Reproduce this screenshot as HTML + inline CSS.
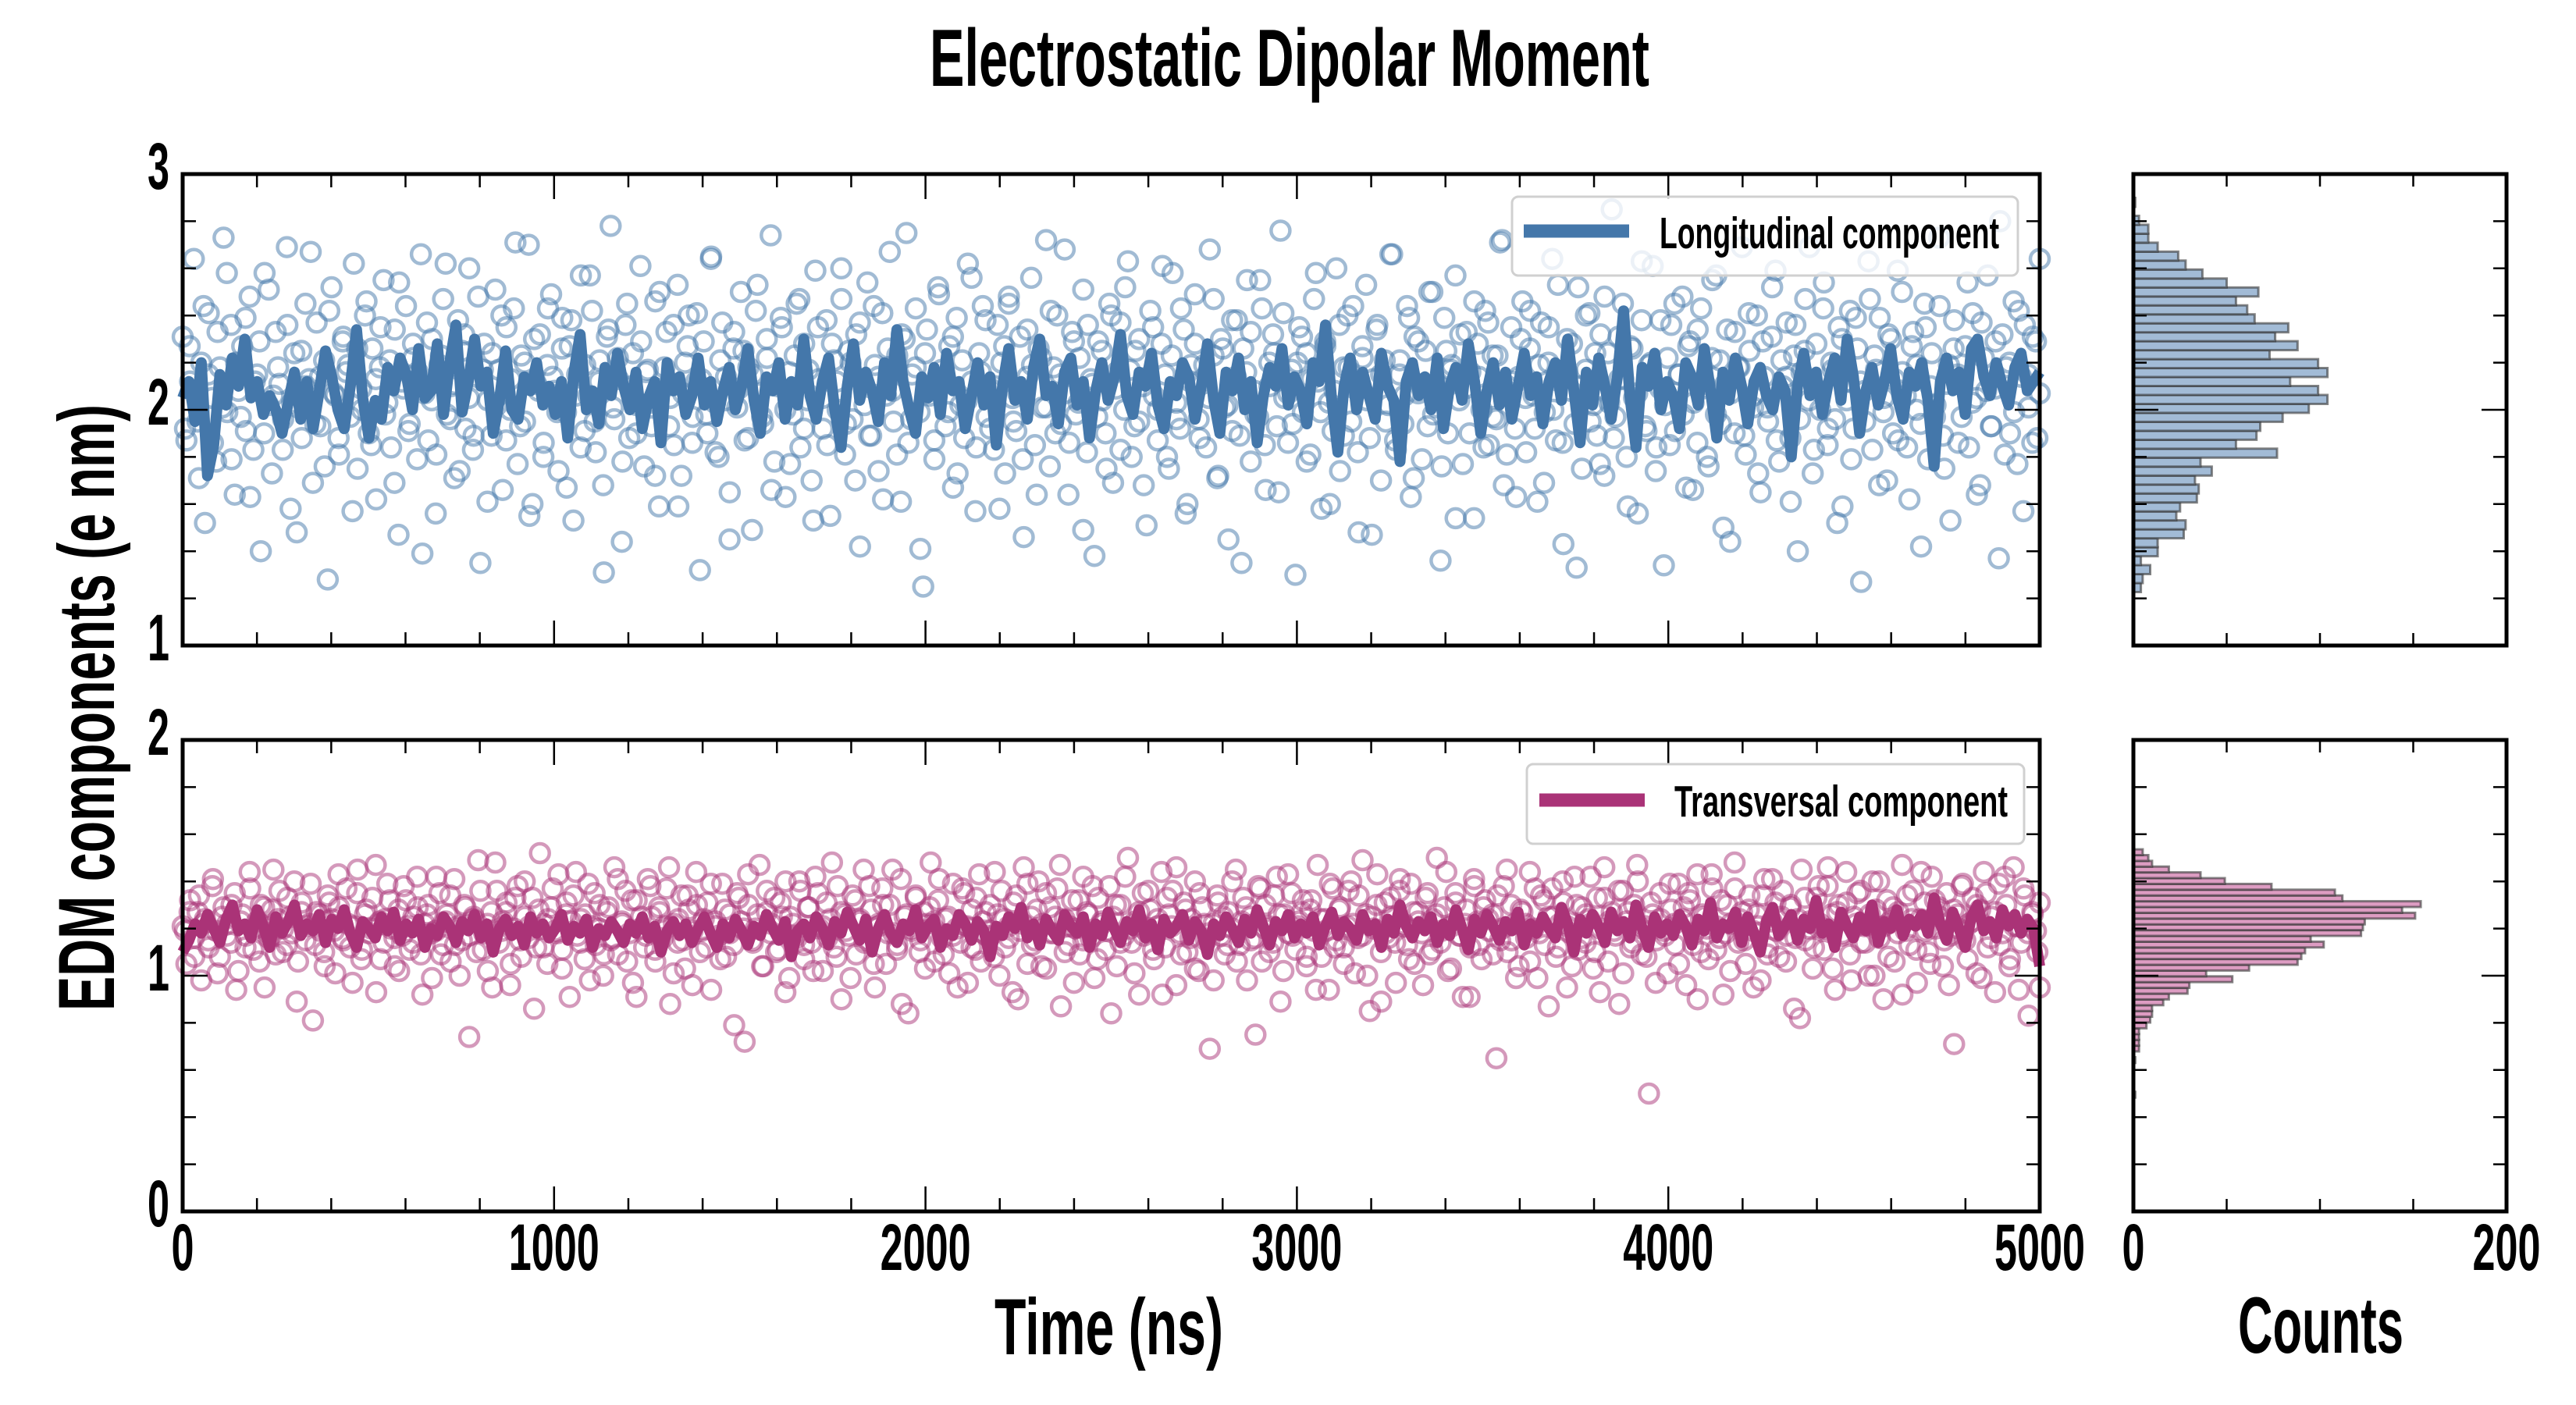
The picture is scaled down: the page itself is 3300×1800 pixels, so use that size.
<!DOCTYPE html>
<html><head><meta charset="utf-8"><style>
html,body{margin:0;padding:0;background:#fff;}
svg{display:block;}
text{font-family:"Liberation Sans Narrow","Liberation Sans",sans-serif;font-weight:bold;fill:#000;}
</style></head><body>
<svg id="chart" width="3300" height="1800" viewBox="0 0 3300 1800" xmlns="http://www.w3.org/2000/svg">
<rect width="3300" height="1800" fill="#fff"/>
<text x="1191" y="110" font-size="104" textLength="922" lengthAdjust="spacingAndGlyphs">Electrostatic Dipolar Moment</text>
<text x="1274" y="1735" font-size="102" textLength="293" lengthAdjust="spacingAndGlyphs">Time (ns)</text>
<text x="2867" y="1733" font-size="102" textLength="212" lengthAdjust="spacingAndGlyphs">Counts</text>
<text transform="translate(146,1295) rotate(-90)" x="0" y="0" font-size="102" textLength="777" lengthAdjust="spacingAndGlyphs">EDM components (e nm)</text>
<g id="gTopScatter"></g>
<g id="gBotScatter"></g>
<g id="gTopLine"></g>
<g id="gBotLine"></g>
<g id="gHist"></g>
<g id="gAxes"></g>
<g>
<rect x="1937" y="252" width="648" height="101" rx="8" fill="#fff" fill-opacity="0.8" stroke="#d0d0d0" stroke-width="3"/>
<line x1="1952" y1="296" x2="2087" y2="296" stroke="#4477aa" stroke-width="17"/>
<text x="2126" y="318" font-size="57" textLength="435" lengthAdjust="spacingAndGlyphs">Longitudinal component</text>
</g>
<g>
<rect x="1956" y="979" width="637" height="102" rx="8" fill="#fff" fill-opacity="0.8" stroke="#d0d0d0" stroke-width="3"/>
<line x1="1972" y1="1025" x2="2107" y2="1025" stroke="#aa3377" stroke-width="17"/>
<text x="2145" y="1046" font-size="57" textLength="427" lengthAdjust="spacingAndGlyphs">Transversal component</text>
</g>
</svg>
<script>
const topScatter=[2.31,1.87,2.12,2.64,1.95,2.20,1.52,2.41,2.05,1.78,2.18,2.73,1.99,2.36,1.64,2.08,2.27,1.91,2.48,1.83,
2.15,1.40,2.58,2.02,1.73,2.33,2.11,1.96,2.69,1.58,2.24,2.01,1.88,2.45,2.13,1.69,2.37,1.93,2.21,1.28,
2.52,2.06,1.81,2.29,2.16,1.97,2.62,1.75,2.09,2.40,1.90,2.26,1.62,2.18,2.55,2.03,1.84,2.34,1.47,2.12,
2.44,1.94,2.22,1.79,2.66,2.07,1.87,2.30,1.56,2.19,2.47,1.98,2.10,1.71,2.38,2.25,1.92,2.60,1.83,2.14,
1.35,2.28,2.04,1.89,2.51,2.17,1.66,2.35,2.00,2.43,1.77,2.23,1.95,2.70,1.60,2.11,2.32,1.86,2.19,2.49,
2.08,1.74,2.39,1.99,2.27,1.53,2.15,2.57,1.91,2.06,2.42,1.82,2.21,1.68,2.31,2.78,1.96,2.13,1.44,2.36,
1.88,2.24,2.02,2.61,1.76,2.17,1.93,2.46,1.59,2.09,2.33,2.05,1.85,2.53,1.72,2.20,2.40,1.97,2.12,1.32,
2.29,1.90,2.65,2.03,1.80,2.37,2.14,1.65,2.26,2.01,2.50,1.87,2.18,1.49,2.42,2.07,1.94,2.22,2.74,1.78,
2.10,2.35,1.63,2.16,1.98,2.45,1.84,2.28,2.04,1.70,2.59,2.13,1.92,2.38,1.55,2.21,2.00,2.47,1.81,2.25,
1.96,2.32,1.42,2.11,2.54,1.89,2.19,1.74,2.41,2.06,2.67,1.95,2.23,1.61,2.30,1.86,2.15,2.43,1.99,1.25,
2.34,2.08,1.79,2.52,2.17,1.93,2.27,1.67,2.39,2.02,1.88,2.62,2.12,1.57,2.24,2.44,1.97,2.09,1.83,2.36,
2.20,1.73,2.48,2.05,1.91,2.31,1.46,2.14,2.56,1.85,2.26,2.01,2.72,1.76,2.18,2.40,1.94,2.07,1.64,2.33,
1.98,2.22,2.51,1.82,2.13,1.38,2.29,2.04,1.90,2.45,1.69,2.16,2.37,2.00,2.63,1.80,2.25,1.95,2.10,1.51,
2.42,2.06,1.87,2.28,2.15,1.75,2.58,2.03,1.92,2.34,1.60,2.19,2.49,1.96,2.11,1.84,2.68,2.23,1.71,2.30,
2.01,1.45,2.38,2.14,1.89,2.26,2.55,1.78,2.08,1.97,2.43,1.66,2.20,2.32,1.93,2.76,2.05,1.86,2.17,1.30,
2.35,1.99,2.24,1.81,2.47,2.12,1.58,2.29,2.03,1.91,2.60,1.74,2.18,2.40,1.95,2.09,1.48,2.27,2.53,1.88,
2.13,2.36,1.70,2.21,2.02,2.66,1.83,2.15,1.94,2.44,1.63,2.31,2.07,1.79,2.25,2.50,1.98,2.11,1.36,2.39,
1.90,2.19,2.57,2.04,1.77,2.33,2.16,1.54,2.28,2.00,2.42,1.85,2.23,1.96,2.71,1.68,2.10,2.35,1.92,2.14,
2.46,1.82,2.26,2.06,1.61,2.37,1.99,2.20,2.64,1.87,2.12,1.43,2.30,2.08,1.94,2.52,1.75,2.17,2.41,2.02,
1.89,2.32,1.72,2.24,2.85,1.97,2.13,2.45,1.80,2.27,2.05,1.56,2.38,1.93,2.19,2.61,1.84,2.09,1.34,2.22,
2.36,1.91,2.15,2.48,1.67,2.29,2.03,1.86,2.43,2.11,1.76,2.55,1.98,2.21,1.50,2.34,2.07,1.90,2.18,2.69,
1.81,2.25,2.01,2.40,1.65,2.14,1.95,2.31,2.59,1.78,2.10,2.37,1.88,2.23,1.40,2.16,2.47,2.04,1.73,2.28,
2.00,2.54,1.85,2.20,1.96,2.35,1.59,2.12,2.42,1.92,2.26,1.27,2.08,2.63,1.83,2.17,2.39,1.99,1.70,2.30,
2.13,1.87,2.50,2.06,1.62,2.33,2.19,1.94,2.45,1.79,2.24,2.02,2.73,1.89,2.11,1.53,2.38,2.15,1.97,2.27,
1.84,2.41,2.05,1.68,2.22,2.57,1.93,2.09,1.37,2.32,2.18,1.90,2.46,1.77,2.14,2.36,2.01,1.86,2.29,2.64];
const topScatterB=[1.92,2.27,2.08,1.71,2.44,2.15,1.86,2.33,2.01,2.58,1.79,2.20,1.97,2.39,1.63,2.12,2.29,1.90,2.51,2.06,
2.18,1.83,2.36,2.03,1.48,2.25,2.10,2.67,1.94,2.14,1.76,2.42,2.07,1.88,2.31,2.19,1.57,2.26,2.00,2.46,
1.85,2.13,2.35,1.98,2.21,1.69,2.54,2.09,1.91,2.28,2.16,1.39,2.37,2.04,1.81,2.23,2.62,1.96,2.11,1.74,
2.32,2.05,1.89,2.48,2.17,1.61,2.24,2.02,2.40,1.87,2.13,2.71,1.93,2.20,1.55,2.30,2.08,1.80,2.43,2.14,
1.99,2.26,1.67,2.38,2.06,1.84,2.19,2.57,1.95,2.12,1.31,2.34,2.01,2.22,1.78,2.45,2.10,1.90,2.29,2.16,
2.03,1.72,2.50,2.18,1.93,2.36,1.59,2.07,2.27,1.86,2.41,2.13,1.98,2.64,1.82,2.21,2.04,1.45,2.33,2.09,
2.25,1.88,2.15,2.53,1.97,2.30,1.66,2.11,2.39,2.00,1.77,2.23,2.47,1.92,2.17,1.53,2.35,2.05,1.85,2.28,
2.12,2.60,1.94,2.20,1.70,2.37,2.02,1.89,2.44,2.14,1.62,2.26,2.08,1.81,2.32,2.75,1.96,2.18,1.41,2.24,
2.06,1.87,2.49,2.13,1.99,2.31,1.73,2.21,2.04,2.56,1.84,2.16,2.38,1.92,2.10,1.58,2.27,2.45,1.95,2.07,
1.79,2.34,2.19,1.64,2.22,2.01,2.42,1.90,2.15,2.68,1.86,2.29,2.03,1.49,2.36,2.11,1.97,2.25,1.75,2.40,
2.09,1.83,2.52,2.17,1.93,2.30,1.68,2.14,2.35,2.00,2.61,1.80,2.23,1.96,2.43,1.56,2.12,2.28,1.88,2.19,
2.05,2.47,1.72,2.26,2.02,1.91,2.38,1.35,2.16,2.33,1.98,2.55,1.85,2.10,2.24,1.65,2.41,2.07,1.94,2.20,
2.31,1.78,2.13,2.58,1.99,2.27,1.60,2.08,2.36,1.89,2.18,2.44,1.82,2.22,2.04,1.47,2.34,2.15,1.95,2.66,
1.87,2.21,2.06,2.39,1.71,2.29,2.11,1.93,2.50,2.01,1.76,2.25,2.17,1.54,2.32,2.09,1.90,2.46,2.14,1.84,
2.37,1.97,2.23,2.72,1.81,2.12,1.63,2.30,2.05,2.42,1.92,2.19,1.69,2.35,2.00,2.53,1.86,2.16,2.28,1.33,
2.10,2.40,1.95,2.24,1.77,2.48,2.03,1.88,2.31,2.13,1.59,2.26,2.07,2.63,1.91,2.20,1.74,2.38,2.02,1.85,
2.45,2.15,1.98,2.27,1.66,2.34,2.09,1.80,2.22,2.57,1.94,2.11,1.44,2.33,2.18,1.89,2.41,2.06,1.73,2.29,
2.01,2.52,1.87,2.21,2.14,1.61,2.36,1.96,2.25,2.69,1.83,2.08,2.43,1.92,2.17,1.52,2.30,2.04,1.79,2.39,
2.12,1.95,2.47,2.23,1.68,2.05,2.32,1.90,2.59,2.16,1.84,2.27,2.00,1.42,2.35,2.10,1.97,2.44,1.75,2.19,
2.26,1.86,2.13,2.54,2.03,1.64,2.37,2.08,1.93,2.29,2.80,1.81,2.20,1.99,2.42,1.57,2.15,2.31,1.88,2.07];
const topLine=[2.05,2.12,1.95,2.20,1.72,1.85,2.15,2.02,2.22,2.10,2.30,2.05,2.12,1.98,2.06,2.00,1.90,2.03,2.16,1.96,
2.12,1.92,2.08,2.25,2.14,2.00,1.92,2.10,2.34,2.05,1.88,2.04,1.96,2.18,2.08,2.22,2.15,2.00,2.26,2.05,
2.08,2.28,1.98,2.20,2.36,1.99,2.12,2.30,2.10,2.16,1.90,2.04,2.25,2.00,1.96,2.14,2.08,2.20,2.02,2.10,
1.98,2.12,1.88,2.16,2.32,2.00,2.08,1.94,2.18,2.06,2.24,2.10,2.00,2.16,1.92,2.05,2.12,1.86,2.20,2.08,
2.14,1.98,2.06,2.22,2.02,2.12,1.95,2.08,2.18,2.00,2.10,2.26,2.04,1.90,2.14,2.08,2.20,1.96,2.12,2.02,
2.30,2.06,1.96,2.12,2.22,2.00,1.84,2.10,2.28,2.04,2.16,2.08,1.95,2.20,2.06,2.34,2.12,2.00,1.90,2.14,
2.05,2.18,1.98,2.24,2.08,2.12,1.92,2.06,2.20,2.02,2.14,1.85,2.10,2.26,2.04,2.12,1.96,2.18,2.30,2.06,
2.10,1.94,2.16,2.22,2.02,2.12,1.88,2.08,2.20,2.04,2.14,2.32,2.06,1.98,2.16,2.10,2.24,2.02,1.92,2.12,
2.06,2.20,2.14,1.96,2.10,2.28,2.04,1.90,2.16,2.08,2.22,2.00,2.12,1.86,2.06,2.18,2.10,2.26,2.02,2.14,
2.08,1.94,2.20,2.12,2.36,2.04,1.82,2.10,2.22,2.00,2.16,2.06,1.96,2.24,2.10,2.04,1.78,2.12,2.20,2.06,
2.14,2.00,2.22,1.92,2.10,2.18,2.04,2.28,2.12,1.90,2.08,2.20,2.02,2.16,1.96,2.10,2.24,2.06,2.14,1.94,
2.12,2.20,2.04,2.30,2.08,1.86,2.16,2.02,2.22,2.10,1.96,2.14,2.42,2.06,1.84,2.18,2.10,2.24,2.00,2.12,
2.06,1.92,2.20,2.14,2.02,2.26,2.08,1.88,2.16,2.04,2.22,2.10,1.94,2.12,2.18,2.06,2.00,2.14,2.08,1.80,
2.10,2.24,2.06,2.16,1.98,2.12,2.22,2.04,2.30,2.14,1.90,2.08,2.18,2.02,2.12,2.26,2.06,1.96,2.16,2.10,
2.20,2.04,1.76,2.12,2.22,2.08,2.16,1.98,2.26,2.30,2.14,2.06,2.20,2.10,2.02,2.18,2.24,2.08,2.12,2.16];
const botScatter=[1.21,1.05,1.32,1.16,1.27,0.98,1.24,1.12,1.38,1.19,1.08,1.29,1.22,1.14,1.35,1.02,1.26,1.17,1.44,1.11,
1.23,1.30,0.95,1.18,1.28,1.09,1.36,1.20,1.13,1.25,1.40,1.06,1.31,1.15,1.22,0.81,1.27,1.19,1.10,1.34,
1.24,1.01,1.29,1.16,1.37,1.12,1.21,1.45,1.07,1.26,1.18,1.33,0.93,1.23,1.14,1.39,1.20,1.04,1.28,1.17,
1.32,1.11,1.25,1.42,1.09,1.22,1.30,0.99,1.19,1.35,1.13,1.26,1.06,1.41,1.21,1.15,1.29,0.74,1.24,1.10,
1.36,1.18,1.02,1.27,1.48,1.14,1.23,1.31,0.96,1.20,1.38,1.08,1.25,1.16,1.33,1.12,1.52,1.22,1.05,1.29,
1.19,1.43,1.11,1.26,0.91,1.34,1.17,1.24,1.07,1.39,1.21,1.13,1.30,1.00,1.27,1.15,1.46,1.09,1.23,1.36,
1.18,0.97,1.32,1.20,1.12,1.41,1.25,1.06,1.29,1.16,1.37,0.88,1.22,1.14,1.34,1.03,1.28,1.19,1.44,1.10,
1.24,1.31,0.94,1.21,1.17,1.39,1.08,1.26,1.13,1.35,1.23,0.72,1.30,1.15,1.20,1.47,1.04,1.27,1.18,1.33,
1.11,1.25,1.40,0.99,1.22,1.16,1.36,1.07,1.29,1.14,1.42,1.20,1.02,1.31,1.24,1.12,1.38,0.90,1.26,1.17,
1.34,1.09,1.23,1.45,1.15,1.28,0.95,1.21,1.37,1.05,1.30,1.18,1.13,1.41,1.25,0.84,1.19,1.33,1.10,1.27,
1.22,1.48,1.06,1.32,1.16,1.24,1.01,1.39,1.20,1.14,1.35,0.97,1.28,1.11,1.43,1.23,1.17,1.30,1.08,1.26,
1.36,1.12,1.21,0.93,1.34,1.19,1.46,1.05,1.25,1.15,1.40,1.22,1.03,1.29,1.18,1.37,0.87,1.24,1.13,1.32,
1.20,1.09,1.42,1.27,1.16,0.99,1.33,1.22,1.11,1.38,1.25,1.04,1.30,1.17,1.50,1.14,1.23,0.92,1.35,1.19,
1.28,1.07,1.21,1.44,1.12,1.26,1.36,0.96,1.18,1.31,1.10,1.24,1.40,1.02,1.29,1.15,0.69,1.22,1.34,1.17,
1.09,1.27,1.20,1.45,1.13,1.33,0.98,1.25,1.16,1.38,1.06,1.30,1.21,1.14,1.42,0.89,1.26,1.18,1.35,1.11,
1.23,1.32,1.04,1.28,1.19,1.47,1.08,1.24,0.94,1.37,1.15,1.29,1.12,1.21,1.40,1.01,1.34,1.17,1.26,0.85,
1.20,1.43,1.10,1.31,1.16,1.25,0.97,1.36,1.22,1.13,1.39,1.05,1.27,1.18,1.33,1.09,1.24,1.50,1.14,1.29,
1.02,1.21,1.35,1.17,0.91,1.28,1.12,1.41,1.23,1.07,1.32,1.19,1.26,0.65,1.15,1.38,1.10,1.30,1.22,1.04,
1.27,1.16,1.44,1.20,0.99,1.34,1.13,1.25,1.37,1.08,1.22,1.31,0.95,1.18,1.42,1.11,1.29,1.14,1.24,1.03,
1.33,1.20,1.46,1.06,1.27,1.17,0.88,1.36,1.23,1.12,1.30,1.40,1.09,1.21,0.50,1.26,1.15,1.35,1.19,1.01,
1.28,1.13,1.39,1.24,0.96,1.32,1.18,1.43,1.10,1.25,1.07,1.37,1.21,1.16,0.92,1.30,1.22,1.48,1.14,1.27,
1.05,1.34,1.19,1.26,0.98,1.41,1.12,1.23,1.31,1.08,1.36,1.17,1.29,0.86,1.24,1.45,1.15,1.20,1.03,1.33,
1.22,1.11,1.38,1.26,0.94,1.30,1.18,1.44,1.09,1.25,1.35,1.14,1.21,1.00,1.40,1.28,1.16,0.90,1.32,1.23,
1.06,1.27,1.47,1.19,1.13,1.36,0.97,1.24,1.31,1.10,1.42,1.20,1.29,1.04,1.35,1.17,0.71,1.26,1.38,1.15,
1.22,1.33,1.01,1.28,1.44,1.12,1.25,0.93,1.39,1.18,1.30,1.07,1.46,1.21,1.14,1.34,0.83,1.27,1.19,0.95];
const botScatterB=[1.19,1.27,1.08,1.34,1.22,1.15,1.41,1.01,1.25,1.17,1.30,0.94,1.23,1.12,1.37,1.20,1.06,1.29,1.16,1.45,
1.24,1.10,1.33,1.18,0.89,1.27,1.21,1.39,1.13,1.26,1.04,1.31,1.19,1.43,1.15,1.22,0.97,1.35,1.11,1.28,
1.20,1.47,1.07,1.24,1.32,1.16,1.02,1.38,1.21,1.14,1.29,0.92,1.26,1.18,1.42,1.09,1.23,1.34,1.13,1.00,
1.30,1.17,1.25,1.49,1.11,1.22,0.95,1.36,1.19,1.27,1.05,1.33,1.15,1.40,1.21,0.86,1.28,1.12,1.24,1.37,
1.18,1.03,1.31,1.23,1.44,1.14,1.26,0.98,1.35,1.20,1.09,1.29,1.16,1.41,1.22,1.06,1.32,0.91,1.25,1.17,
1.38,1.11,1.27,1.21,1.46,1.01,1.24,1.15,1.34,0.96,1.30,1.19,1.12,1.39,1.23,1.07,1.28,1.18,0.79,1.33,
1.20,1.43,1.14,1.26,1.04,1.36,1.22,1.10,1.31,0.93,1.25,1.17,1.40,1.13,1.29,1.02,1.35,1.21,1.16,1.48,
1.08,1.27,1.19,0.99,1.32,1.24,1.14,1.38,1.05,1.22,1.30,1.18,1.45,1.11,0.88,1.26,1.20,1.34,1.15,1.03,
1.29,1.23,1.41,1.09,1.25,1.17,0.95,1.37,1.21,1.12,1.33,1.06,1.27,1.19,1.44,1.00,1.24,1.16,1.31,0.90,
1.22,1.39,1.13,1.28,1.04,1.35,1.18,1.25,1.47,1.10,1.21,0.97,1.32,1.15,1.26,1.38,1.07,1.23,1.19,0.84,
1.30,1.14,1.42,1.20,1.01,1.27,1.17,1.36,1.11,1.24,0.92,1.33,1.21,1.46,1.09,1.28,1.16,1.03,1.35,1.22,
1.18,0.98,1.31,1.25,1.13,1.40,1.06,1.23,1.29,1.15,0.75,1.37,1.20,1.10,1.34,1.26,1.02,1.43,1.17,1.21,
1.27,1.08,1.32,0.94,1.24,1.19,1.39,1.12,1.28,1.05,1.36,1.22,1.16,1.49,1.00,1.25,1.30,0.89,1.18,1.33,
1.14,1.41,1.21,1.07,1.27,1.23,0.96,1.35,1.11,1.26,1.19,1.44,1.03,1.31,1.17,1.22,0.91,1.38,1.13,1.29,
1.24,1.09,1.34,1.20,1.45,1.15,0.99,1.28,1.22,1.06,1.37,1.18,1.32,0.87,1.25,1.12,1.40,1.21,1.04,1.30,
1.16,1.26,1.42,1.10,0.93,1.33,1.23,1.19,1.36,1.01,1.27,1.14,1.47,1.20,1.08,1.31,0.97,1.24,1.17,1.39,
1.22,1.05,1.29,1.35,1.13,0.90,1.26,1.20,1.43,1.11,1.32,1.18,1.02,1.37,1.24,1.15,1.28,0.95,1.21,1.34,
1.09,1.41,1.19,1.25,1.06,1.30,1.16,0.82,1.33,1.23,1.12,1.38,1.20,1.46,1.03,1.27,1.17,1.31,0.98,1.22,
1.36,1.14,1.26,1.00,1.40,1.21,1.08,1.29,1.18,0.92,1.34,1.24,1.11,1.44,1.19,1.05,1.32,1.25,1.15,0.96,
1.28,1.20,1.39,1.07,1.23,1.30,0.99,1.35,1.16,1.27,1.13,1.42,1.04,1.21,0.94,1.37,1.18,1.26,1.10,1.31];
const botLine=[1.10,1.15,1.22,1.18,1.26,1.20,1.14,1.24,1.30,1.19,1.22,1.16,1.28,1.21,1.12,1.25,1.18,1.23,1.30,1.17,
1.22,1.19,1.26,1.14,1.24,1.20,1.28,1.18,1.12,1.23,1.20,1.16,1.25,1.19,1.27,1.15,1.22,1.18,1.24,1.12,
1.20,1.17,1.25,1.21,1.14,1.23,1.19,1.26,1.16,1.22,1.10,1.20,1.24,1.17,1.21,1.13,1.25,1.18,1.22,1.16,
1.20,1.26,1.15,1.21,1.18,1.24,1.12,1.20,1.17,1.23,1.19,1.14,1.22,1.18,1.25,1.16,1.21,1.10,1.19,1.23,
1.17,1.22,1.14,1.20,1.25,1.18,1.12,1.22,1.16,1.24,1.19,1.13,1.21,1.17,1.26,1.20,1.15,1.23,1.08,1.19,
1.22,1.16,1.25,1.20,1.13,1.23,1.18,1.27,1.21,1.15,1.24,1.10,1.20,1.26,1.18,1.14,1.22,1.19,1.28,1.16,
1.21,1.24,1.12,1.20,1.17,1.26,1.22,1.15,1.23,1.19,1.08,1.21,1.17,1.25,1.20,1.29,1.16,1.22,1.13,1.24,
1.19,1.15,1.26,1.21,1.18,1.25,1.12,1.22,1.17,1.27,1.20,1.14,1.23,1.19,1.28,1.16,1.22,1.11,1.24,1.18,
1.21,1.26,1.15,1.23,1.19,1.09,1.22,1.17,1.25,1.20,1.14,1.24,1.18,1.28,1.21,1.13,1.23,1.19,1.26,1.16,
1.22,1.18,1.25,1.13,1.21,1.27,1.17,1.23,1.20,1.15,1.26,1.19,1.22,1.12,1.24,1.18,1.30,1.21,1.16,1.23,
1.19,1.25,1.14,1.22,1.17,1.28,1.20,1.11,1.24,1.18,1.26,1.21,1.15,1.23,1.19,1.27,1.13,1.22,1.18,1.25,
1.20,1.16,1.29,1.22,1.10,1.24,1.18,1.26,1.21,1.14,1.27,1.19,1.23,1.16,1.30,1.20,1.12,1.25,1.18,1.22,
1.17,1.26,1.21,1.13,1.24,1.19,1.31,1.16,1.22,1.20,1.27,1.14,1.25,1.18,1.10,1.23,1.29,1.17,1.21,1.26,
1.15,1.24,1.20,1.32,1.18,1.22,1.12,1.27,1.21,1.16,1.25,1.19,1.30,1.14,1.23,1.20,1.28,1.17,1.24,1.21,
1.26,1.18,1.33,1.22,1.15,1.27,1.20,1.12,1.25,1.30,1.19,1.23,1.16,1.28,1.21,1.26,1.18,1.24,1.20,1.04];
const topHistStart=1.246, topHistWidth=0.038;
const topHistCounts=[4,5,9,4,13,13,27,28,23,25,34,35,33,42,36,77,55,66,68,80,94,104,99,84,104,99,73,88,76,83,65,61,55,67,50,37,28,24,13,8,8,3,0,1];
const botHistStart=0.495, botHistWidth=0.0245;
const botHistCounts=[1,0,0,0,0,0,1,0,3,3,3,3,7,9,10,10,16,19,29,30,53,39,62,88,90,92,102,95,122,123,124,151,144,154,112,108,74,49,36,19,10,8,5];
const xTickLabels=["0","1000","2000","3000","4000","5000"];
const xTickValues=[0,1000,2000,3000,4000,5000];
const topYTicks=[1,2,3], botYTicks=[0,1,2];
const histTickLabels=["0","200"], histTickValues=[0,200];
const T_MAX=5000;

const NS="http://www.w3.org/2000/svg";
const MX0=234,MX1=2613,TY0=223,TY1=827,BY0=948,BY1=1552,HX0=2733,HX1=3211;
function xMain(t){return MX0+t/T_MAX*(MX1-MX0);}
function yTop(v){return TY1-(v-1)/2*(TY1-TY0);}
function yBot(v){return BY1-(v-0)/2*(BY1-BY0);}
function xHist(c){return HX0+c/200*(HX1-HX0);}
function mk(tag,attrs,parent){const e=document.createElementNS(NS,tag);for(const k in attrs)e.setAttribute(k,attrs[k]);parent.appendChild(e);return e;}

function scatter(vals,yf,g,color,nm,offset){
  const n=vals.length;
  vals.forEach((v,i)=>{
    const t=Math.min(T_MAX,(i+offset)*T_MAX/(n-1));
    const c=mk('circle',{cx:xMain(t).toFixed(1),cy:yf(v).toFixed(1),r:12,fill:'none',stroke:color,'stroke-opacity':0.5,'stroke-width':4.5},g);
    
    
  });
}
function line(vals,yf,g,color,nm){
  const n=vals.length;
  const d=vals.map((v,i)=>(i?'L':'M')+xMain(i*T_MAX/(n-1)).toFixed(1)+','+yf(v).toFixed(1)).join('');
  const p=mk('path',{d:d,fill:'none',stroke:color,'stroke-width':14,'stroke-linejoin':'round'},g);
  
  
}
const gTS=document.getElementById('gTopScatter'), gBS=document.getElementById('gBotScatter');
scatter(topScatter,yTop,gTS,'#4477aa','longitudinal-point',0);
scatter(topScatterB,yTop,gTS,'#4477aa','longitudinal-point',0.5);
scatter(botScatter,yBot,gBS,'#aa3377','transversal-point',0);
scatter(botScatterB,yBot,gBS,'#aa3377','transversal-point',0.5);
line(topLine,yTop,document.getElementById('gTopLine'),'#4477aa','longitudinal-line');
line(botLine,yBot,document.getElementById('gBotLine'),'#aa3377','transversal-line');

function hist(counts,start,w,yf,fill,nm){
  const g=document.getElementById('gHist');
  counts.forEach((c,i)=>{
    if(c<=0)return;
    const ctr=start+i*w;
    const y1=yf(ctr+w/2),y2=yf(ctr-w/2);
    const r=mk('rect',{x:HX0,y:y1.toFixed(1),width:(xHist(c)-HX0).toFixed(1),height:(y2-y1).toFixed(1),fill:fill,stroke:'#333','stroke-opacity':0.6,'stroke-width':3},g);
    
    
  });
}
hist(topHistCounts,topHistStart,topHistWidth,yTop,'#a2bbd6','longitudinal-hist-bar');
hist(botHistCounts,botHistStart,botHistWidth,yBot,'#dd9cc2','transversal-hist-bar');

const ax=document.getElementById('gAxes');
function ln(x1,y1,x2,y2,w){mk('line',{x1:x1,y1:y1,x2:x2,y2:y2,stroke:'#000','stroke-width':w||2.5},ax);}
function txt(s,x,y,anchor,len,nm){
  const t=mk('text',{x:x,y:y,'font-size':84,'text-anchor':anchor,textLength:len,lengthAdjust:'spacingAndGlyphs'},ax);
  t.textContent=s;
  
  
}
[[TY0,TY1,yTop,1,topYTicks],[BY0,BY1,yBot,0,botYTicks]].forEach(([y0,y1,yf,vmin,labels],pi)=>{
  for(let t=0;t<=T_MAX;t+=200){
    const x=xMain(t),L=(t%1000===0)?32:17;
    ln(x,y0,x,y0+L);ln(x,y1,x,y1-L);
  }
  for(let k=0;k<=10;k++){
    const v=vmin+k*0.2,y=yf(v),L=(k%5===0)?32:17;
    ln(MX0,y,MX0+L,y);ln(MX1,y,MX1-L,y);
    ln(HX0,y,HX0+L,y);ln(HX1,y,HX1-L,y);
  }
  labels.forEach(v=>txt(String(v),217,yf(v)+19,'end',28,'y-tick-label'));
  for(let c=50;c<200;c+=50){const x=xHist(c);ln(x,y0,x,y0+16);ln(x,y1,x,y1-16);}
  mk('rect',{x:MX0,y:y0,width:MX1-MX0,height:y1-y0,fill:'none',stroke:'#000','stroke-width':5},ax);
  mk('rect',{x:HX0,y:y0,width:HX1-HX0,height:y1-y0,fill:'none',stroke:'#000','stroke-width':5},ax);
});
xTickValues.forEach((v,i)=>txt(xTickLabels[i],xMain(v),1627,'middle',xTickLabels[i].length*29,'x-tick-label'));
histTickValues.forEach((v,i)=>txt(histTickLabels[i],xHist(v),1627,'middle',histTickLabels[i].length*29,'hist-x-tick-label'));
</script>
</body></html>
